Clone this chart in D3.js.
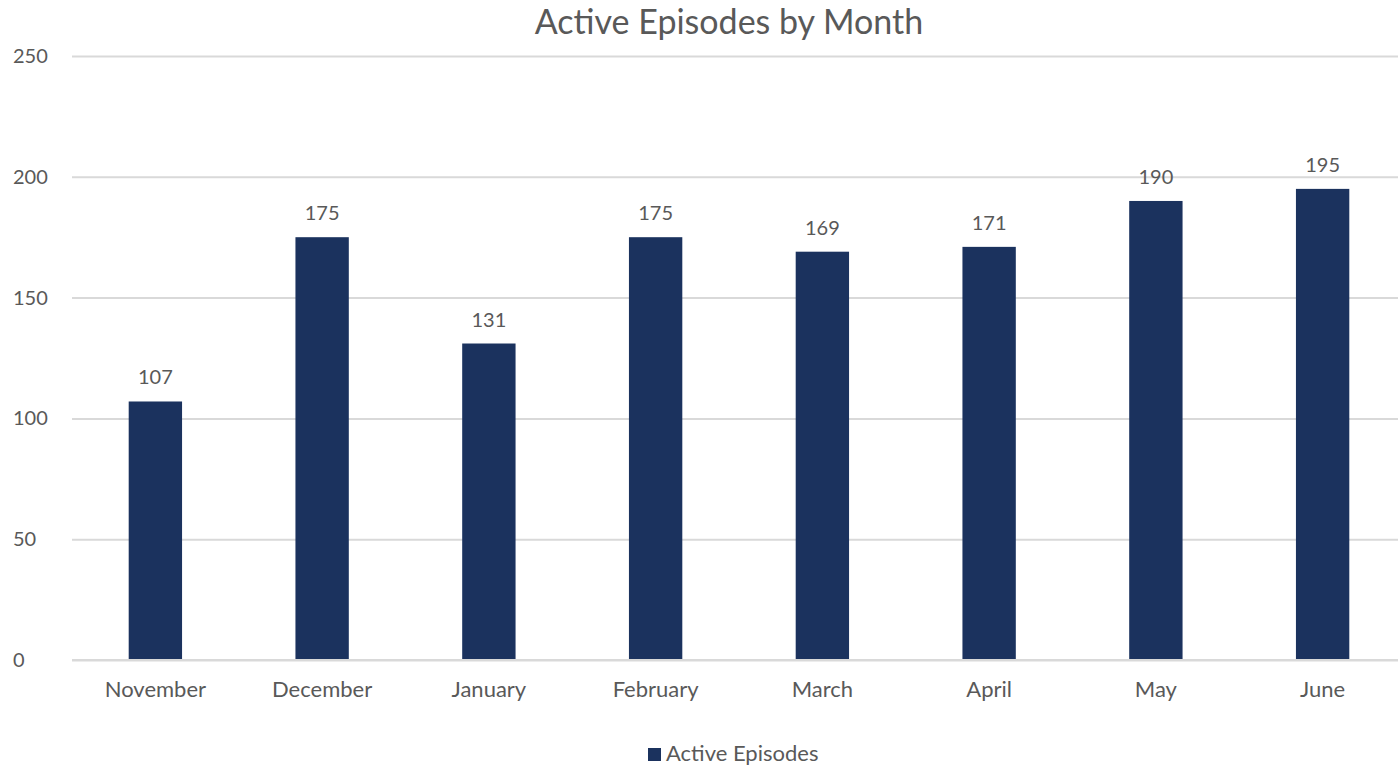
<!DOCTYPE html>
<html>
<head>
<meta charset="utf-8">
<script src="https://cdn.jsdelivr.net/npm/d3@7"></script>
<style>
  body { margin: 0; background: #fff; }
  text { font-family: "Lato", "Open Sans", sans-serif; fill: #595959; }
</style>
</head>
<body>
<div id="chart"></div>
<script>
// data
const months = ["November", "December", "January", "February", "March", "April", "May", "June"];
const activeEpisodes = [107, 175, 131, 175, 169, 171, 190, 195];
const yTicks = [0, 50, 100, 150, 200, 250];
const seriesName = "Active Episodes";

const W = 1399, H = 769;
const margin = {top: 56, right: 1, bottom: 109, left: 72};
const width = W - margin.left - margin.right;
const height = H - margin.top - margin.bottom;
const barColor = "#1b325e";

const svg = d3.select("#chart").append("svg")
    .attr("width", W)
    .attr("height", H);

svg.append("text")
    .attr("x", 729)
    .attr("y", 34)
    .attr("text-anchor", "middle")
    .style("font-size", "34px")
    .text("Active Episodes by Month");

const g = svg.append("g")
    .attr("transform", "translate(" + margin.left + "," + margin.top + ")");

// bands run a little past the gridline end, like the original
const x = d3.scaleBand()
    .domain(months)
    .range([0, width + 8])
    .paddingInner(0.68)
    .paddingOuter(0.34);

const y = d3.scaleLinear()
    .domain([0, 250])
    .range([height, 0]);

// gridlines + y labels
const yAxis = g.append("g")
    .call(d3.axisLeft(y).tickValues(yTicks).tickSize(-width));
yAxis.select(".domain").remove();
yAxis.selectAll(".tick line").attr("stroke", "#d9d9d9").attr("stroke-width", 2);
yAxis.selectAll(".tick text").style("font-size", "20px").attr("fill", "#595959").attr("text-anchor", "start").attr("x", -59);

// bars
g.selectAll(".bar")
    .data(activeEpisodes)
    .enter()
    .append("rect")
    .attr("class", "bar")
    .attr("x", (d, i) => x(months[i]))
    .attr("width", x.bandwidth())
    .attr("y", d => y(d))
    .attr("height", d => height - y(d))
    .attr("fill", barColor);

// value labels
g.selectAll(".lbl")
    .data(activeEpisodes)
    .enter()
    .append("text")
    .attr("class", "lbl")
    .attr("x", (d, i) => x(months[i]) + x.bandwidth() / 2)
    .attr("y", d => y(d) - 17)
    .attr("text-anchor", "middle")
    .style("font-size", "20px")
    .text(d => d);

// x axis
const xAxis = g.append("g")
    .attr("transform", "translate(0," + height + ")")
    .call(d3.axisBottom(x).tickSize(0).tickPadding(21));
xAxis.select(".domain").attr("d", "M0,0H" + width).attr("stroke", "#d9d9d9").attr("stroke-width", 2);
xAxis.selectAll(".tick text").style("font-size", "22px").attr("fill", "#595959");

// legend
const legend = svg.append("g").attr("transform", "translate(648,748)");
legend.append("rect")
    .attr("width", 13)
    .attr("height", 13)
    .attr("fill", barColor);
legend.append("text")
    .attr("x", 18)
    .attr("y", 13)
    .style("font-size", "22px")
    .text(seriesName);
</script>
</body>
</html>
